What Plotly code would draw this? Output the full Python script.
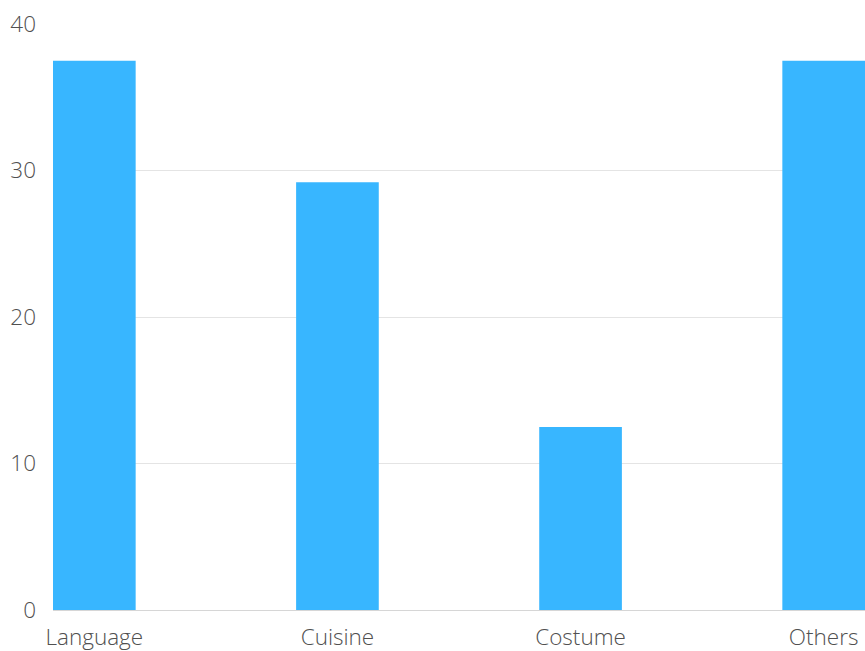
import plotly.graph_objects as go

categories = ["Language", "Cuisine", "Costume", "Others"]
values = [37.5, 29.2, 12.5, 37.5]
y_ticks = [0, 10, 20, 30, 40]

fig = go.Figure(
    go.Bar(
        x=categories,
        y=values,
        marker=dict(color="#38B6FF", line=dict(width=0)),
        width=0.34,
    )
)

fig.update_layout(
    width=865,
    height=651,
    margin=dict(l=53, r=0, t=24, b=41),
    paper_bgcolor="white",
    plot_bgcolor="white",
    showlegend=False,
    font=dict(family="Open Sans", size=22.5, color="#505050", weight=300),
)

fig.update_xaxes(
    range=[-0.17, 3.17],
    automargin=False,
    showgrid=False,
    showline=True,
    linecolor="#d6d6d6",
    linewidth=1,
    ticks="",
    ticklabelstandoff=7,
    tickfont=dict(size=22.5, color="#505050", weight=300),
)

fig.update_yaxes(
    range=[0, 40],
    automargin=False,
    tickvals=y_ticks,
    showgrid=True,
    gridcolor="#e4e4e4",
    gridwidth=1,
    zeroline=False,
    showline=False,
    ticks="",
    ticklabelstandoff=16,
    tickfont=dict(size=22.5, color="#505050", weight=300),
)

fig.write_html(
    "out.html",
    config={"displayModeBar": False},
    post_script="document.body.style.margin='0';document.body.style.overflow='hidden';",
)
